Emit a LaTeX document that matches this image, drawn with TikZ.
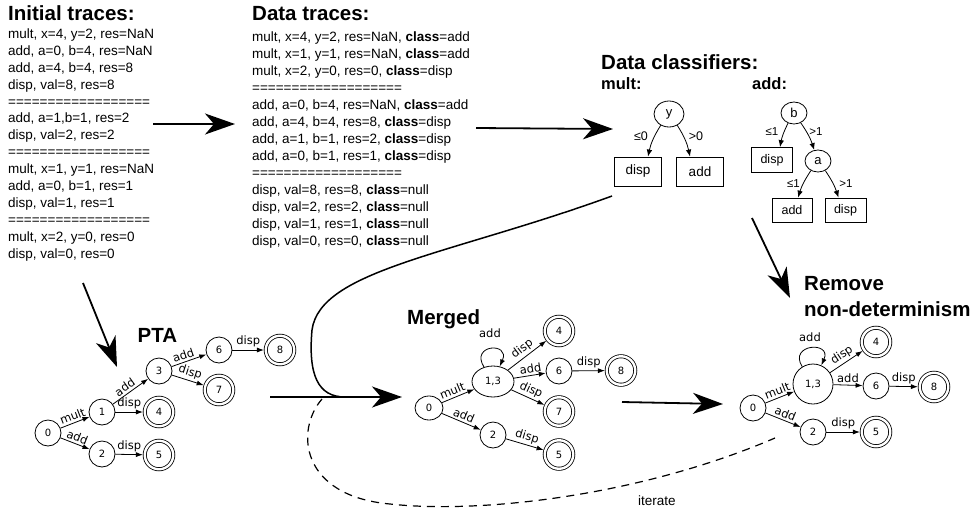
\documentclass[tikz,border=0pt]{standalone}
\usepackage{fontspec}
\setmainfont{Liberation Sans}
\newfontfamily\dejavu{DejaVu Sans}
\usetikzlibrary{arrows.meta,shapes.geometric}
\begin{document}
\begin{tikzpicture}[x=1pt,y=-1pt,
  trace/.style={anchor=base west, inner sep=0pt, font=\fontsize{13.5}{16}\selectfont},
  ttl/.style={anchor=base west, inner sep=0pt, font=\bfseries\fontsize{20.5}{24}\selectfont},
  subttl/.style={anchor=base west, inner sep=0pt, font=\bfseries\fontsize{16.5}{20}\selectfont},
  big/.style={line width=1.8pt, -{Stealth[length=30pt,width=21pt,inset=9pt]}},
  cnode/.style={ellipse, draw, line width=0.8pt, inner sep=0pt, font=\fontsize{13}{15}\selectfont},
  cbox/.style={rectangle, draw, line width=0.8pt, inner sep=0pt, font=\fontsize{13.5}{16}\selectfont},
  cedge/.style={line width=0.8pt, -{Latex[length=7pt,width=5.5pt]}},
  clbl/.style={inner sep=0pt, font=\fontsize{12.5}{15}\selectfont},
  st/.style={circle, draw, line width=0.8pt, inner sep=0pt, minimum size=26pt, font=\dejavu\fontsize{10}{12}\selectfont},
  acc/.style={st, double, double distance=2.4pt, minimum size=28.5pt, outer sep=1.8pt},
  ed/.style={line width=0.8pt, -{Latex[length=7pt,width=5pt]}},
  elab/.style={inner sep=2pt, sloped, above, font=\dejavu\fontsize{11.5}{13}\selectfont},
  llab/.style={inner sep=2.5pt, above, font=\dejavu\fontsize{11.5}{13}\selectfont},
  looplab/.style={inner sep=0pt, font=\dejavu\fontsize{11.5}{13}\selectfont},
  selfloop/.style={out=122,in=66,min distance=27pt}]
\useasboundingbox (0,0) rectangle (972,512);

% ---------- Initial traces ----------
\node[ttl] (tinit) at (8,20.5) {Initial traces:};
\foreach \t [count=\i from 0] in {{mult, x=4, y=2, res=NaN},{add, a=0, b=4, res=NaN},{add, a=4, b=4, res=8},{disp, val=8, res=8},{==================},{add, a=1,b=1, res=2},{disp, val=2, res=2},{==================},{mult, x=1, y=1, res=NaN},{add, a=0, b=1, res=1},{disp, val=1, res=1},{==================},{mult, x=2, y=0, res=0},{disp, val=0, res=0}}
  \node[trace] (it\i) at (8,38.4+16.9*\i) {\t};

% ---------- Data traces ----------
\node[ttl] (tdata) at (252,20.5) {Data traces:};
\foreach \t [count=\i from 0] in {{mult, x=4, y=2, res=NaN, \textbf{class}=add},{mult, x=1, y=1, res=NaN, \textbf{class}=add},{mult, x=2, y=0, res=0, \textbf{class}=disp},{===================},{add, a=0, b=4, res=NaN, \textbf{class}=add},{add, a=4, b=4, res=8, \textbf{class}=disp},{add, a=1, b=1, res=2, \textbf{class}=disp},{add, a=0, b=1, res=1, \textbf{class}=disp},{===================},{disp, val=8, res=8, \textbf{class}=null},{disp, val=2, res=2, \textbf{class}=null},{disp, val=1, res=1, \textbf{class}=null},{disp, val=0, res=0, \textbf{class}=null}}
  \node[trace] (dt\i) at (252,41+17*\i) {\t};

% ---------- Data classifiers ----------
\node[ttl] (tcls) at (601,69) {Data classifiers:};
\node[subttl] (tmult) at (601,89.5) {mult:};
\node[subttl] (tadd) at (752,89.5) {add:};

\node[cnode, minimum width=30pt, minimum height=26pt] (my) at (669,114) {y};
\node[cbox, minimum width=47pt, minimum height=29pt] (md) at (638,171.5) {disp};
\node[cbox, minimum width=47pt, minimum height=29pt] (ma) at (700,171.5) {add};
\draw[cedge] (my) to[bend right=10] ([xshift=10pt]md.north);
\draw[cedge] (my) to[bend left=10] ([xshift=-10pt]ma.north);
\node[clbl] (lle0) at (641,136) {≤0};
\node[clbl] (lgt0) at (696,136) {>0};

\node[cnode, minimum width=26pt, minimum height=22pt] (ab) at (794,113) {b};
\node[cbox, minimum width=41pt, minimum height=25pt, font=\fontsize{12.5}{15}\selectfont] (ad1) at (772,160) {disp};
\node[cnode, minimum width=26pt, minimum height=22pt] (aa) at (818,161) {a};
\node[cbox, minimum width=40pt, minimum height=24pt, font=\fontsize{12.5}{15}\selectfont] (aad) at (792,210) {add};
\node[cbox, minimum width=41pt, minimum height=24pt, font=\fontsize{12.5}{15}\selectfont] (ad2) at (845.5,210) {disp};
\draw[cedge] (ab) to[bend right=8] ([xshift=8pt]ad1.north);
\draw[cedge] (ab) to[bend left=8] (aa);
\draw[cedge] (aa) to[bend right=8] ([xshift=6pt]aad.north);
\draw[cedge] (aa) to[bend left=8] ([xshift=-7pt]ad2.north);
\node[clbl, font=\fontsize{11.5}{14}\selectfont] (lb1) at (772,132) {≤1};
\node[clbl, font=\fontsize{11.5}{14}\selectfont] (lb2) at (816,132) {>1};
\node[clbl, font=\fontsize{11.5}{14}\selectfont] (la1) at (793.5,183.5) {≤1};
\node[clbl, font=\fontsize{11.5}{14}\selectfont] (la2) at (846,183.5) {>1};

% ---------- PTA ----------
\node[ttl] (tpta) at (137.5,342.5) {PTA};
\node[st] (p0) at (48,433) {0};
\node[st] (p1) at (102,412) {1};
\node[st] (p2) at (102,454) {2};
\node[st] (p3) at (159,371) {3};
\node[acc] (p4) at (159,412) {4};
\node[acc] (p5) at (159,455) {5};
\node[st] (p6) at (219,350) {6};
\node[acc] (p7) at (219,390) {7};
\node[acc] (p8) at (280,350) {8};
\draw[ed] (p0) -- node[elab] {mult} (p1);
\draw[ed] (p1) -- node[elab, pos=.45] {add} (p3);
\draw[ed] (p1) -- node[llab] {disp} (p4);
\draw[ed] (p0) -- node[elab] {add} (p2);
\draw[ed] (p2) -- node[llab] {disp} (p5);
\draw[ed] (p3) -- node[elab, pos=.4] {add} (p6);
\draw[ed] (p3) -- node[elab] {disp} (p7);
\draw[ed] (p6) -- node[llab] {disp} (p8);

% ---------- Merged ----------
\node[ttl] (tmerged) at (407,324) {Merged};
\node[st, minimum size=0pt, minimum width=28pt, minimum height=24pt, ellipse] (m0) at (429,408) {0};
\node[st, minimum size=0pt, minimum width=42pt, minimum height=31pt, ellipse] (m13) at (493,381.5) {1,3};
\node[st] (m2) at (493,435) {2};
\node[acc] (m4) at (559,331) {4};
\node[st] (m6) at (559,371) {6};
\node[acc] (m7) at (559,411.5) {7};
\node[acc] (m8) at (621,370.5) {8};
\node[acc] (m5) at (559,454.5) {5};
\draw[ed] (m0) -- node[elab, pos=.4] {mult} (m13);
\draw[ed] (m0) -- node[elab] {add} (m2);
\draw[ed] (m13) to[selfloop] (m13);
\node[looplab] (mloop) at (490,333) {add};
\draw[ed] (m13) -- node[elab] {disp} (m4);
\draw[ed] (m13) -- node[elab, pos=.55] {add} (m6);
\draw[ed] (m13) -- node[elab] {disp} (m7);
\draw[ed] (m6) -- node[llab] {disp} (m8);
\draw[ed] (m2) -- node[elab] {disp} (m5);

% ---------- Remove non-determinism ----------
\node[ttl] (trem1) at (804,290.5) {Remove};
\node[ttl] (trem2) at (804,316.5) {non-determinism};
\node[st] (r0) at (753,408) {0};
\node[st, minimum size=40pt] (r13) at (813,384) {1,3};
\node[st] (r2) at (813,432) {2};
\node[acc] (r4) at (876,342) {4};
\node[st] (r6) at (876,386) {6};
\node[acc] (r8) at (934,387) {8};
\node[acc] (r5) at (876,432) {5};
\draw[ed] (r0) -- node[elab] {mult} (r13);
\draw[ed] (r0) -- node[elab] {add} (r2);
\draw[ed] (r13) to[selfloop] (r13);
\node[looplab] (rloop) at (810,337) {add};
\draw[ed] (r13) -- node[elab] {disp} (r4);
\draw[ed] (r13) -- node[llab] {add} (r6);
\draw[ed] (r6) -- node[llab] {disp} (r8);
\draw[ed] (r2) -- node[llab] {disp} (r5);

% ---------- big arrows ----------
\coordinate (a1s) at (153,124); \coordinate (a1e) at (235,124);
\coordinate (a2s) at (476,128); \coordinate (a2e) at (613,129);
\coordinate (a3s) at (83,283);  \coordinate (a3e) at (117,367);
\coordinate (a4s) at (270,397); \coordinate (a4e) at (402,397);
\coordinate (a5s) at (622,402); \coordinate (a5e) at (723,404);
\coordinate (a6s) at (752,218); \coordinate (a6e) at (790,298);
\draw[big] (a1s) -- (a1e);
\draw[big] (a2s) -- (a2e);
\draw[big] (a3s) -- (a3e);
\draw[big] (a4s) -- (a4e);
\draw[big] (a5s) -- (a5e);
\draw[big] (a6s) -- (a6e);

% feedback curve from classifier to merge step
\coordinate (cs) at (612,196);
\coordinate (ce) at (345,397);
\draw[line width=1.5pt] (cs) .. controls (450,255) and (320,270) .. (312,330) .. controls (308,375) and (318,397) .. (ce);

% iterate loop
\coordinate (ds) at (322,399);
\coordinate (dm) at (390,504);
\coordinate (de) at (775,438);
\draw[line width=1.2pt, dash pattern=on 8pt off 6pt] (ds) .. controls (295,430) and (300,496) .. (dm) .. controls (480,514) and (640,496) .. (de);
\node[trace, anchor=west] (iter) at (638,501) {iterate};
\end{tikzpicture}
\end{document}
